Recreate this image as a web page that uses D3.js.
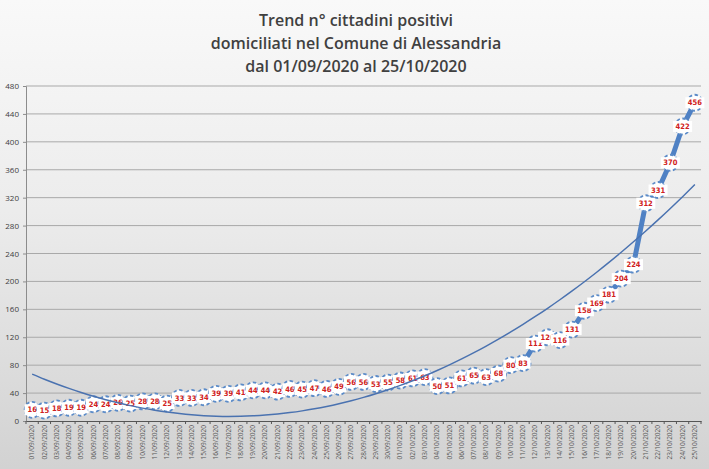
<!DOCTYPE html>
<html>
<head>
<meta charset="utf-8">
<script src="https://cdn.jsdelivr.net/npm/d3@7"></script>
<style>
  body { margin: 0; background: #fff; }
  svg { display: block; }
</style>
</head>
<body>
<div id="chart"></div>
<script>
// dates (dd/mm/yyyy) and number of positive residents
const dates = [
  "01/09/2020","02/09/2020","03/09/2020","04/09/2020","05/09/2020","06/09/2020","07/09/2020",
  "08/09/2020","09/09/2020","10/09/2020","11/09/2020","12/09/2020","13/09/2020","14/09/2020",
  "15/09/2020","16/09/2020","17/09/2020","18/09/2020","19/09/2020","20/09/2020","21/09/2020",
  "22/09/2020","23/09/2020","24/09/2020","25/09/2020","26/09/2020","27/09/2020","28/09/2020",
  "29/09/2020","30/09/2020","01/10/2020","02/10/2020","03/10/2020","04/10/2020","05/10/2020",
  "06/10/2020","07/10/2020","08/10/2020","09/10/2020","10/10/2020","11/10/2020","12/10/2020",
  "13/10/2020","14/10/2020","15/10/2020","16/10/2020","17/10/2020","18/10/2020","19/10/2020",
  "20/10/2020","21/10/2020","22/10/2020","23/10/2020","24/10/2020","25/10/2020"
];
const positivi = [
  16,15,18,19,19,24,24,26,25,28,28,25,33,33,34,39,39,41,44,44,42,46,45,47,46,49,56,56,53,55,
  58,61,63,50,51,61,65,63,68,80,83,111,120,116,131,158,169,181,204,224,312,331,370,422,456
];
const yTicks = [0,40,80,120,160,200,240,280,320,360,400,440,480];
const titleLines = [
  "Trend n° cittadini positivi",
  "domiciliati nel Comune di Alessandria",
  "dal 01/09/2020 al 25/10/2020"
];

const W = 709, H = 469;
const margin = {top: 86, right: 8, bottom: 48, left: 26};
const width = W - margin.left - margin.right;
const height = H - margin.top - margin.bottom;

const svg = d3.select("#chart").append("svg")
  .attr("width", W).attr("height", H);

// background gradient
const defs = svg.append("defs");
const grad = defs.append("linearGradient").attr("id", "bg")
  .attr("x1", 0).attr("y1", 0).attr("x2", 0).attr("y2", 1);
grad.append("stop").attr("offset", "0%").attr("stop-color", "#f9f9f9");
grad.append("stop").attr("offset", "45%").attr("stop-color", "#ececec");
grad.append("stop").attr("offset", "100%").attr("stop-color", "#d2d2d2");
svg.append("rect").attr("width", W).attr("height", H).attr("fill", "url(#bg)");

// title
svg.append("g").selectAll("text")
  .data(titleLines)
  .join("text")
    .attr("x", 356)
    .attr("y", (d, i) => 26 + i * 23)
    .attr("text-anchor", "middle")
    .attr("font-family", "'Open Sans', sans-serif")
    .attr("font-weight", 600)
    .attr("font-size", 16)
    .attr("fill", "#404040")
    .text(d => d);

const g = svg.append("g").attr("transform", `translate(${margin.left},${margin.top})`);

const x = d3.scaleBand().domain(dates).range([0, width]);
const y = d3.scaleLinear().domain([0, 480]).range([height, 0]);
const cx = d => x(d) + x.bandwidth() / 2;

// gridlines
g.append("g").selectAll("line")
  .data(yTicks.filter(t => t > 0))
  .join("line")
    .attr("x1", 0).attr("x2", width)
    .attr("y1", d => y(d)).attr("y2", d => y(d))
    .attr("stroke", "#a9a9a9").attr("stroke-width", 1);

// y axis
const yAxis = g.append("g")
  .call(d3.axisLeft(y).tickValues(yTicks).tickSize(3).tickPadding(4));
yAxis.select(".domain").attr("stroke", "#8c8c8c");
yAxis.selectAll(".tick line").attr("stroke", "#8c8c8c");
yAxis.selectAll("text").attr("font-family", "'Open Sans', sans-serif")
  .attr("font-size", 8).attr("fill", "#404040");

// x axis
const xAxis = g.append("g").attr("transform", `translate(0,${height})`)
  .call(d3.axisBottom(x).tickSize(0).tickPadding(4));
xAxis.select(".domain").attr("stroke", "#555").attr("stroke-width", 1.2);
xAxis.selectAll(".tick text")
  .attr("transform", "rotate(-90)")
  .attr("text-anchor", "end")
  .attr("dx", "-4")
  .attr("dy", "0.32em")
  .attr("y", 0)
  .attr("x", 0)
  .attr("font-family", "'Open Sans', sans-serif")
  .attr("font-size", 6.5)
  .attr("fill", "#555");
// small tick marks at category boundaries
g.append("g").selectAll("line")
  .data(dates.concat(["end"]))
  .join("line")
    .attr("x1", (d, i) => i * x.step()).attr("x2", (d, i) => i * x.step())
    .attr("y1", height).attr("y2", height + 3)
    .attr("stroke", "#555");

// polynomial (order 2) trendline, least squares on the data
let S = [0,0,0,0,0], T = [0,0,0];
positivi.forEach((v, i) => {
  const t = i + 1;
  for (let k = 0; k < 5; k++) S[k] += Math.pow(t, k);
  for (let k = 0; k < 3; k++) T[k] += v * Math.pow(t, k);
});
function solve3(A, b) {
  const M = A.map((r, i) => r.concat([b[i]]));
  for (let c = 0; c < 3; c++) {
    for (let r = c + 1; r < 3; r++) {
      const f = M[r][c] / M[c][c];
      for (let k = c; k < 4; k++) M[r][k] -= f * M[c][k];
    }
  }
  const out = [0,0,0];
  for (let r = 2; r >= 0; r--) {
    let s = M[r][3];
    for (let k = r + 1; k < 3; k++) s -= M[r][k] * out[k];
    out[r] = s / M[r][r];
  }
  return out;
}
const coef = solve3(
  [[S[0],S[1],S[2]],[S[1],S[2],S[3]],[S[2],S[3],S[4]]], T);
const trend = dates.map((d, i) => {
  const t = i + 1;
  return {d, v: coef[0] + coef[1] * t + coef[2] * t * t};
});

// main series line
const series = dates.map((d, i) => ({d, v: positivi[i]}));
g.append("path")
  .datum(series)
  .attr("fill", "none")
  .attr("stroke", "#4f81c4")
  .attr("stroke-width", 5)
  .attr("stroke-linejoin", "round")
  .attr("d", d3.line().x(p => cx(p.d)).y(p => y(p.v)));

// markers + labels
const pts = g.append("g").selectAll("g")
  .data(series)
  .join("g")
    .attr("transform", p => `translate(${cx(p.d)},${y(p.v)})`);
pts.append("ellipse")
  .attr("rx", 7.5).attr("ry", 8)
  .attr("fill", "#ffffff")
  .attr("stroke", "#5b8bc8").attr("stroke-width", 1.8)
  .attr("stroke-dasharray", "3.5,2.5");
pts.append("rect")
  .attr("x", p => p.v >= 100 ? -9.5 : -7.5).attr("y", -5.5)
  .attr("width", p => p.v >= 100 ? 19 : 15).attr("height", 11)
  .attr("fill", "#ffffff");
pts.append("text")
  .attr("text-anchor", "middle")
  .attr("dy", "0.35em")
  .attr("font-family", "'Liberation Sans Narrow', 'DejaVu Sans Condensed', sans-serif")
  .attr("font-weight", "bold")
  .attr("font-size", 7.5)
  .attr("fill", "#d02020")
  .text(p => p.v);

// trendline drawn over the markers
g.append("path")
  .datum(trend)
  .attr("fill", "none")
  .attr("stroke", "#4a72b0")
  .attr("stroke-width", 1.5)
  .attr("d", d3.line().curve(d3.curveMonotoneX).x(p => cx(p.d)).y(p => y(p.v)));
</script>
</body>
</html>
